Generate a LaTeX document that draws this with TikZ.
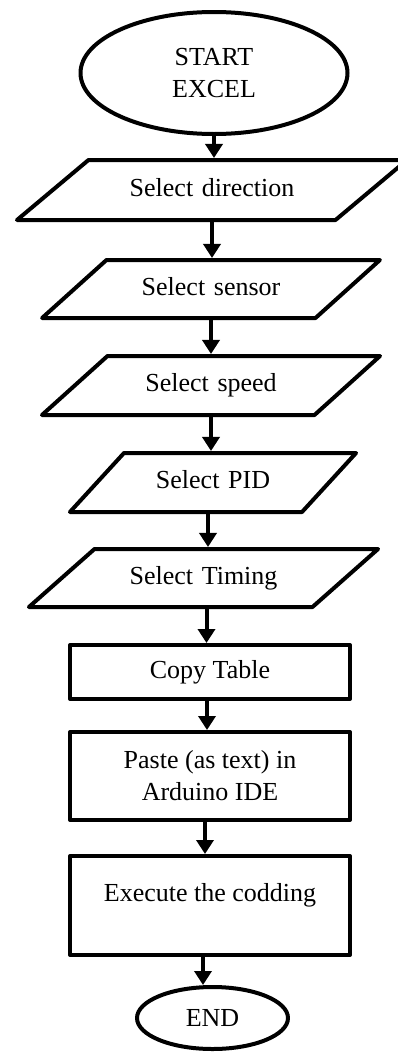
\documentclass[tikz,border=0pt]{standalone}
\usepackage{fontspec}
\setmainfont{Liberation Serif}
\usetikzlibrary{shapes.geometric,arrows.meta,positioning}

\begin{document}
\begin{tikzpicture}[
        x=1pt, y=1pt, line width=4pt, line join=round,
        every node/.style={font=\fontsize{26}{32}\selectfont},
        terminal/.style={draw, ellipse, inner sep=0pt, align=center},
        inbox/.style={draw, trapezium, inner xsep=0pt, align=center,
          text height=18pt, text depth=6pt,
          trapezium left angle=#1, trapezium right angle=180-#1},
        procbox/.style={draw, rectangle, minimum width=280pt, inner sep=0pt,
          align=center},
        >={Triangle[width=17pt,length=14pt]}
      ]
        \useasboundingbox (0,0) rectangle (398,-1052);
        \node[terminal, minimum width=267pt, minimum height=122pt] (start) at (214,-73) {START\\EXCEL};
        \node[inbox=40, text width=247pt, inner ysep=18pt] (dir) at (212,-190) {Select direction};
        \node[inbox=42, text width=209pt, inner ysep=17pt] (sensor) at (211,-289) {Select sensor};
        \node[inbox=42, text width=207pt, inner ysep=17.5pt] (speed) at (211,-385.5) {Select speed};
        \node[inbox=47.5, text width=178pt, inner ysep=17.5pt] (pid) at (213,-482.5) {Select PID};
        \node[inbox=41.5, text width=218pt, inner ysep=17pt] (timing) at (203.5,-578) {Select Timing};
        \node[procbox, minimum height=54pt] (copy) at (210,-672) {Copy Table};
        \node[procbox, minimum height=88pt] (paste) at (210,-776) {Paste (as text) in\\Arduino IDE};
        \node[procbox, minimum height=99pt, text depth=26pt] (exec) at (210,-905.5) {Execute the codding};
        \node[terminal, minimum width=151pt, minimum height=62pt] (stop) at (212.5,-1018) {END};
        % connectors
        \draw[->] (start.south) -- (start.south |- dir.north);
        \draw[->] (dir.south) -- (dir.south |- sensor.north);
        \draw[->] (sensor.south) -- (sensor.south |- speed.north);
        \draw[->] (speed.south) -- (speed.south |- pid.north);
        \draw[->] ([xshift=-5pt]pid.south) -- ([xshift=-5pt]pid.south |- timing.north);
        \draw[->] ([xshift=3pt]timing.south) -- ([xshift=3pt]timing.south |- copy.north);
        \draw[->] ([xshift=-3pt]copy.south) -- ([xshift=-3pt]copy.south |- paste.north);
        \draw[->] ([xshift=-5pt]paste.south) -- ([xshift=-5pt]paste.south |- exec.north);
        \draw[->] ([xshift=-7pt]exec.south) -- ([xshift=-7pt]exec.south |- stop.north);
      \end{tikzpicture}
\end{document}
